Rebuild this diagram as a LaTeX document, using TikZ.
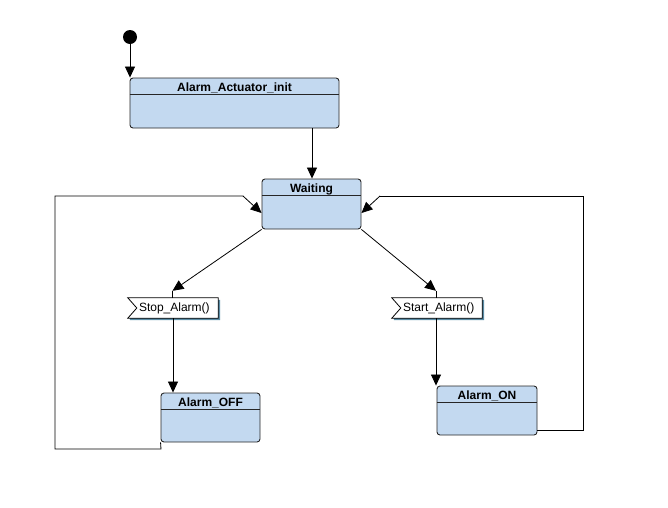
\documentclass[tikz,border=0pt]{standalone}
\usepackage{fontspec}
\setmainfont{Liberation Sans}
\usetikzlibrary{arrows.meta}
\definecolor{statefill}{RGB}{195,217,240}
\definecolor{sigshadow}{RGB}{90,140,165}
\begin{document}
\begin{tikzpicture}[x=1pt,y=-1pt,
  statebox/.style={draw=black!85, fill=statefill, rounded corners=3pt, line width=0.9pt,
    inner sep=0pt},
  statename/.style={font=\bfseries\fontsize{12}{13}\selectfont, inner sep=0pt},
  sigbox/.style={draw=none, inner sep=0pt, font=\fontsize{12}{13}\selectfont},
  flow/.style={line width=0.8pt, -{Triangle[length=11pt,width=10pt]}},
  wire/.style={line width=0.8pt}
]
\useasboundingbox (0,0) rectangle (668,507);

% initial pseudo-state
\fill (130,37) circle (7);
\coordinate (start) at (130,44);

% states
\node[statebox, minimum width=209pt, minimum height=50pt] (init) at (234.5,103) {};
\node[statebox, minimum width=99pt, minimum height=50pt] (wait) at (311.5,204) {};
\node[statebox, minimum width=99pt, minimum height=49pt] (off) at (210.5,417.5) {};
\node[statebox, minimum width=100pt, minimum height=49pt] (on) at (487,410.5) {};

% compartment separators and titles
\foreach \s/\t in {init/Alarm\_Actuator\_init, wait/Waiting, off/Alarm\_OFF, on/Alarm\_ON}{
  \draw[line width=0.9pt, black!85] ([shift={(0,17)}]\s.north west) -- ([shift={(0,17)}]\s.north east);
  \node[statename] (\s-title) at ([shift={(0,10.5)}]\s.north) {\t};
}

% signal receptions
\node[sigbox, minimum width=90pt, minimum height=20pt] (stop) at (173,308) {};
\node[sigbox, minimum width=90pt, minimum height=20pt] (go) at (437,308) {};
\foreach \s/\t in {stop/Stop\_Alarm(), go/Start\_Alarm()}{
  \fill[sigshadow] ([shift={(2,2)}]\s.north east) -- ([shift={(2,2)}]\s.south east)
    -- ([shift={(2,2)}]\s.south west) -- ([shift={(2,0)}]\s.south west)
    -- (\s.south east) -- ([shift={(0,2)}]\s.north east) -- cycle;
  \draw[fill=white, line width=0.8pt] (\s.north west) -- (\s.north east) -- (\s.south east)
    -- (\s.south west) -- ([shift={(9,0)}]\s.west) -- cycle;
  \node[sigbox, anchor=west] (\s-label) at ([shift={(11,0.5)}]\s.west) {\t};
}

% transitions
\draw[flow] (start) -- (start |- init.north);
\draw[flow] (init.south -| 312,0) -- (wait.north -| 312,0);

\coordinate (stopin) at ([shift={(-0.5,-7)}]stop.north);
\coordinate (goin) at ([shift={(-1,-7)}]go.north);
\draw[wire] (stopin) -- ([shift={(-0.5,0)}]stop.north);
\draw[wire] (goin) -- ([shift={(-1,0)}]go.north);
\draw[flow] (wait.south west) -- (stopin);
\draw[flow] (wait.south east) -- (goin);

\draw[flow] (stop.south) -- (stop.south |- off.north);
\draw[flow] ([shift={(-1,0)}]go.south) -- ([shift={(-1,0)}]go.south |- on.north);

% loops back to Waiting
\coordinate (offl1) at (161,449);
\coordinate (offl2) at (55,449);
\coordinate (offl3) at (55,196);
\coordinate (offl4) at (243,196);
\coordinate (wl) at ([shift={(0,9)}]wait.west);
\draw[wire] (off.south west) -- (offl1) -- (offl2) -- (offl3) -- (offl4);
\draw[flow] (offl4) -- (wl);

\coordinate (onl1) at (583,430);
\coordinate (onl2) at (583,196);
\coordinate (onl3) at (380,196);
\coordinate (wr) at ([shift={(0,9)}]wait.east);
\draw[wire] (on.east |- onl1) -- (onl1) -- (onl2) -- (onl3);
\draw[flow] (onl3) -- (wr);
\end{tikzpicture}
\end{document}
